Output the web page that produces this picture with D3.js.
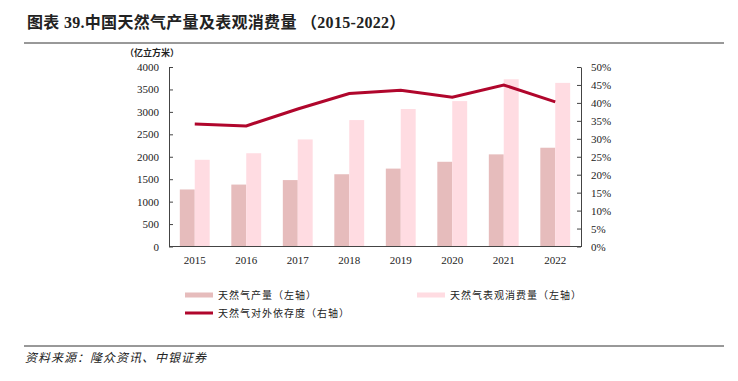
<!DOCTYPE html>
<html>
<head>
<meta charset="utf-8">
<script src="https://cdn.jsdelivr.net/npm/d3@7"></script>
<style>
  body { margin: 0; background: #fff; }
  svg text { fill: #222; }
</style>
</head>
<body>
<svg id="svg" width="738" height="381"></svg>
<script>
const years = ['2015', '2016', '2017', '2018', '2019', '2020', '2021', '2022']
const production = [1271, 1380, 1480, 1610, 1736, 1888, 2053, 2201]
const consumption = [1932, 2078, 2386, 2817, 3064, 3240, 3726, 3646]
const dependence = [34.1, 33.6, 38.3, 42.6, 43.5, 41.6, 45.0, 40.3]
const leftTicks = [0, 500, 1000, 1500, 2000, 2500, 3000, 3500, 4000]
const rightTicks = [0, 5, 10, 15, 20, 25, 30, 35, 40, 45, 50]

const serif = '"Liberation Serif", "DejaVu Serif", serif'
const cjk = '"Noto Sans CJK SC", sans-serif'

const svg = d3.select('#svg')

// header
svg.append('text')
  .attr('x', 27).attr('y', 28)
  .style('font-family', `${serif}, ${cjk}`)
  .style('font-size', '16px').style('font-weight', 'bold')
  .style('letter-spacing', '0.3px')
  .attr('fill', '#111')
  .text('图表 39.中国天然气产量及表观消费量 （2015-2022）')
svg.append('line')
  .attr('x1', 24).attr('x2', 724).attr('y1', 43).attr('y2', 43)
  .attr('stroke', '#333').attr('stroke-width', 1)
svg.append('text')
  .attr('x', 125).attr('y', 56)
  .style('font-family', cjk)
  .style('font-size', '9px').style('font-weight', 'bold')
  .text('（亿立方米）')

const plotLeft = 169, plotRight = 581, plotTop = 67, plotBottom = 246.5

const x = d3.scaleBand().domain(years).range([plotLeft, plotRight]).paddingInner(0.42).paddingOuter(0.21)
const xSub = d3.scaleBand().domain(['p', 'c']).range([0, x.bandwidth()])
const y = d3.scaleLinear().domain([0, 4000]).range([plotBottom, plotTop])
const yR = d3.scaleLinear().domain([0, 50]).range([plotBottom, plotTop])

const g = svg.append('g')

// bars
g.selectAll('.prod').data(years).enter().append('rect')
  .attr('x', d => x(d) + xSub('p'))
  .attr('width', xSub.bandwidth())
  .attr('y', (d, i) => y(production[i]))
  .attr('height', (d, i) => plotBottom - y(production[i]))
  .attr('fill', '#e6bcbc')

g.selectAll('.cons').data(years).enter().append('rect')
  .attr('x', d => x(d) + xSub('c'))
  .attr('width', xSub.bandwidth())
  .attr('y', (d, i) => y(consumption[i]))
  .attr('height', (d, i) => plotBottom - y(consumption[i]))
  .attr('fill', '#ffdce2')

// line
const line = d3.line()
  .x((d, i) => x(years[i]) + x.bandwidth() / 2)
  .y(d => yR(d))
g.append('path')
  .datum(dependence)
  .attr('d', line)
  .attr('fill', 'none')
  .attr('stroke', '#b0062c')
  .attr('stroke-width', 3)

// axes - ticks point inward like the original
const leftAxis = svg.append('g')
  .attr('transform', `translate(${plotLeft},0)`)
  .call(d3.axisLeft(y).tickValues(leftTicks).tickSizeInner(-4).tickSizeOuter(0).tickPadding(10).tickFormat(d3.format('d')))
const rightAxis = svg.append('g')
  .attr('transform', `translate(${plotRight},0)`)
  .call(d3.axisRight(yR).tickValues(rightTicks).tickSizeInner(-4).tickSizeOuter(0).tickPadding(10).tickFormat(d => d + '%'))
const bottomAxis = svg.append('g')
  .attr('transform', `translate(0,${plotBottom})`)
  .call(d3.axisBottom(x).tickSize(0).tickPadding(10))

;[leftAxis, rightAxis, bottomAxis].forEach(a => {
  a.select('.domain').attr('stroke', '#444')
  a.selectAll('.tick line').attr('stroke', '#444')
  a.selectAll('text')
    .style('font-family', serif)
    .style('font-size', '11px')
    .attr('fill', '#222')
})
bottomAxis.select('.domain').attr('d', `M${plotLeft},0H${plotRight}`)

// legend
const legend = [
  { label: '天然气产量（左轴）', color: '#e6bcbc', type: 'bar', x: 185, y: 295 },
  { label: '天然气表观消费量（左轴）', color: '#ffdce2', type: 'bar', x: 417, y: 295 },
  { label: '天然气对外依存度（右轴）', color: '#b0062c', type: 'line', x: 185, y: 313 }
]
const lg = svg.selectAll('.legend').data(legend).enter().append('g')
  .attr('transform', d => `translate(${d.x},${d.y})`)
lg.append('rect')
  .attr('x', 0).attr('width', 28)
  .attr('y', d => d.type === 'bar' ? -2.5 : -1.5)
  .attr('height', d => d.type === 'bar' ? 5 : 3)
  .attr('fill', d => d.color)
lg.append('text')
  .attr('x', 33).attr('y', 4)
  .style('font-family', cjk)
  .style('font-size', '10px')
  .style('letter-spacing', '1px')
  .text(d => d.label)

// footer
svg.append('line')
  .attr('x1', 24).attr('x2', 724).attr('y1', 346).attr('y2', 346)
  .attr('stroke', '#333').attr('stroke-width', 1)
svg.append('text')
  .attr('x', 25).attr('y', 362)
  .style('font-family', cjk)
  .style('font-size', '12px')
  .style('font-style', 'italic')
  .style('letter-spacing', '1px')
  .text('资料来源：隆众资讯、中银证券')
</script>
</body>
</html>
